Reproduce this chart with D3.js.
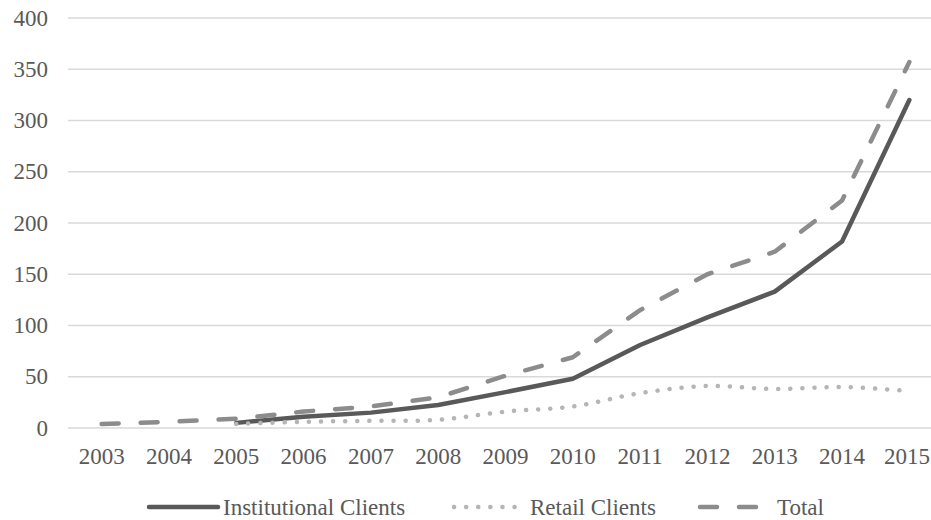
<!DOCTYPE html>
<html>
<head>
<meta charset="utf-8">
<script src="https://cdn.jsdelivr.net/npm/d3@7"></script>
<style>
  body { margin: 0; background: #fff; }
  svg text { font-family: "Liberation Serif", "Times New Roman", serif; fill: #595959; }
</style>
</head>
<body>
<div id="chart"></div>
<script>
const years = ['2003','2004','2005','2006','2007','2008','2009','2010','2011','2012','2013','2014','2015']
const institutional = [null, null, 5, 11, 15, 22.5, 35, 48, 81, 108, 133, 182, 320]
const retail = [null, null, 4, 6, 7, 8, 16, 21, 34, 41, 38, 40, 36]
const total = [4, 6, 9, 16, 21, 30, 51, 69, 115, 150, 172, 222, 357]
const yTicks = [0, 50, 100, 150, 200, 250, 300, 350, 400]

const width = 931
const height = 520
const margin = {top: 18, right: -12, bottom: 92, left: 68}

const svg = d3.select('#chart').append('svg')
  .attr('width', width)
  .attr('height', height)

const xScale = d3.scaleBand()
  .domain(years)
  .range([margin.left, width - margin.right])

const yScale = d3.scaleLinear()
  .domain([0, 400])
  .range([height - margin.bottom, margin.top])

const cx = d => xScale(d) + xScale.bandwidth() / 2

// gridlines
svg.append('g')
  .selectAll('line')
  .data(yTicks)
  .join('line')
  .attr('x1', margin.left)
  .attr('x2', width)
  .attr('y1', d => yScale(d))
  .attr('y2', d => yScale(d))
  .attr('stroke', '#d9d9d9')
  .attr('stroke-width', 1.5)

// y labels
svg.append('g')
  .selectAll('text')
  .data(yTicks)
  .join('text')
  .attr('x', 48)
  .attr('y', d => yScale(d))
  .attr('dy', '0.33em')
  .attr('text-anchor', 'end')
  .style('font-size', '23px')
  .text(d => d)

// x labels (last one kept inside the frame, as in the original)
svg.append('g')
  .selectAll('text')
  .data(years)
  .join('text')
  .attr('x', d => Math.min(cx(d), width - 24))
  .attr('y', 464)
  .attr('text-anchor', 'middle')
  .style('font-size', '23px')
  .text(d => d)

const series = [
  {name: 'Institutional Clients', values: institutional, color: '#595959', dash: null, curve: d3.curveLinear},
  {name: 'Retail Clients', values: retail, color: '#b5b5b5', dash: '0.1,12', curve: d3.curveCatmullRom},
  {name: 'Total', values: total, color: '#8c8c8c', dash: '17,22', curve: d3.curveLinear}
]

const line = d3.line()
  .defined(d => d.y != null)
  .x(d => cx(d.x))
  .y(d => yScale(d.y))

series.forEach(s => {
  const data = years.map((yr, i) => ({x: yr, y: s.values[i]}))
  svg.append('path')
    .attr('d', line.curve(s.curve)(data))
    .attr('fill', 'none')
    .attr('stroke', s.color)
    .attr('stroke-width', 4.5)
    .attr('stroke-linecap', 'round')
    .attr('stroke-linejoin', 'round')
    .attr('stroke-dasharray', s.dash)
})

// legend
const legendItems = [
  {s: series[0], x1: 149, x2: 218, tx: 223},
  {s: series[1], x1: 454, x2: 518, tx: 530},
  {s: series[2], x1: 700, x2: 766, tx: 777}
]
const legend = svg.append('g')
legendItems.forEach(d => {
  legend.append('line')
    .attr('x1', d.x1)
    .attr('x2', d.x2)
    .attr('y1', 507)
    .attr('y2', 507)
    .attr('stroke', d.s.color)
    .attr('stroke-width', 4.5)
    .attr('stroke-linecap', 'round')
    .attr('stroke-dasharray', d.s.dash)
  legend.append('text')
    .attr('x', d.tx)
    .attr('y', 515)
    .style('font-size', '23px')
    .text(d.s.name)
})
</script>
</body>
</html>
